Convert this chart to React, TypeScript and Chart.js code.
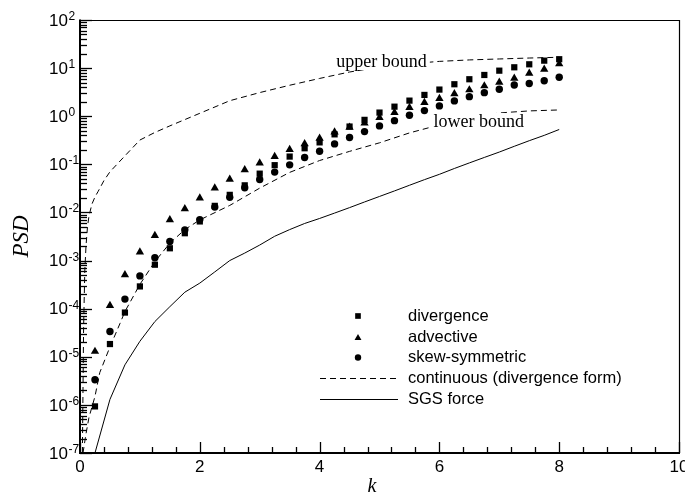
import React, { useEffect, useRef } from "react";
import { Chart, registerables } from "chart.js";

Chart.register(...registerables);

// Wavenumbers at which the discrete spectra are sampled
const kValues = [
  0.25, 0.5, 0.75, 1.0, 1.25, 1.5, 1.75, 2.0, 2.25, 2.5, 2.75, 3.0, 3.25, 3.5, 3.75, 4.0,
  4.25, 4.5, 4.75, 5.0, 5.25, 5.5, 5.75, 6.0, 6.25, 6.5, 6.75, 7.0, 7.25, 7.5, 7.75, 8.0,
];

// PSD of the discrete forms
const divergence = [
  9.3e-7, 1.84e-5, 8.3e-5, 2.9e-4, 8.2e-4, 1.8e-3, 3.7e-3, 6.5e-3, 1.37e-2, 2.32e-2, 3.66e-2,
  6.4e-2, 9.6e-2, 0.145, 0.216, 0.286, 0.42, 0.61, 0.84, 1.19, 1.58, 2.11, 2.77, 3.58, 4.62,
  5.87, 7.2, 8.85, 10.4, 12.0, 14.3, 15.3,
];
const advective = [
  1.29e-5, 1.16e-4, 5.06e-4, 1.5e-3, 3.3e-3, 7.0e-3, 1.19e-2, 1.98e-2, 3.2e-2, 4.9e-2, 7.7e-2,
  0.106, 0.145, 0.202, 0.266, 0.346, 0.47, 0.585, 0.716, 0.935, 1.19, 1.51, 1.92, 2.33, 2.91,
  3.52, 4.26, 5.08, 6.15, 7.8, 9.46, 12.2,
];
const skewSymmetric = [
  3.33e-6, 3.36e-5, 1.58e-4, 4.8e-4, 1.14e-3, 2.49e-3, 4.35e-3, 7.1e-3, 1.29e-2, 2.06e-2,
  3.27e-2, 4.84e-2, 6.9e-2, 9.75e-2, 0.139, 0.187, 0.266, 0.36, 0.479, 0.629, 0.81, 1.05, 1.31,
  1.64, 2.08, 2.55, 3.09, 3.64, 4.47, 4.8, 5.48, 6.46,
];

// Continuous (divergence form): upper and lower bounds
const upperK = [
  0.04, 0.05, 0.06, 0.08, 0.1, 0.125, 0.15, 0.2, 0.25, 0.3, 0.4, 0.5, 0.75, 1.0, 1.25, 1.5, 2.0,
  2.5, 3.0, 3.5, 4.0, 4.5, 5.0, 5.5, 6.0, 6.5, 7.0, 7.5, 8.0,
];
const upperPSD = [
  1e-7, 2e-6, 4e-5, 6e-4, 2e-3, 5e-3, 8.5e-3, 1.5e-2, 2.1e-2, 2.7e-2, 4.6e-2, 7e-2, 0.15, 0.32,
  0.46, 0.63, 1.15, 2.1, 3.1, 4.4, 6.1, 8.3, 10.5, 12.3, 13.8, 14.8, 15.5, 16.2, 16.8,
];
const lowerK = [
  0.05, 0.1, 0.15, 0.25, 0.33, 0.5, 0.67, 0.75, 1.0, 1.25, 1.5, 1.75, 2.0, 2.5, 3.0, 3.5, 4.0,
  4.5, 5.0, 5.5, 6.0, 6.5, 7.0, 7.5, 8.0,
];
const lowerPSD = [
  1e-7, 2.5e-7, 5.5e-7, 1.5e-6, 4.7e-6, 1.6e-5, 5e-5, 8.7e-5, 3.2e-4, 9.5e-4, 2.3e-3, 4.4e-3,
  7e-3, 1.4e-2, 3.2e-2, 6.8e-2, 0.12, 0.186, 0.28, 0.45, 0.66, 0.91, 1.17, 1.29, 1.35,
];

// Subgrid-scale force spectrum
const sgsForce = [
  1e-7, 1.3e-6, 6.8e-6, 2.1e-5, 5.4e-5, 1.1e-4, 2.2e-4, 3.4e-4, 5.8e-4, 1.0e-3, 1.43e-3, 2.1e-3,
  3.2e-3, 4.4e-3, 5.9e-3, 7.5e-3, 9.7e-3, 1.26e-2, 1.65e-2, 2.15e-2, 2.8e-2, 3.67e-2, 4.8e-2,
  6.2e-2, 8.2e-2, 0.107, 0.139, 0.18, 0.237, 0.31, 0.4, 0.53,
];

// Axis ticks
const xMajorTicks = [0, 2, 4, 6, 8, 10];
const xMinorPerMajor = 5;
const yDecades = [-7, -6, -5, -4, -3, -2, -1, 0, 1, 2];

const legendItems = [
  { label: "divergence", kind: "rect" },
  { label: "advective", kind: "triangle" },
  { label: "skew-symmetric", kind: "circle" },
  { label: "continuous (divergence form)", kind: "dash" },
  { label: "SGS force", kind: "solid" },
];

const SANS = '"Liberation Sans", Arial, Helvetica, sans-serif';
const SERIF = '"Liberation Serif", "Times New Roman", serif';

function pts(xs: number[], ys: number[]) {
  return xs.map((x, i) => ({ x, y: ys[i] }));
}

function marker(ctx: CanvasRenderingContext2D, kind: string, x: number, y: number, r: number) {
  ctx.beginPath();
  if (kind === "rect") {
    const s = r * Math.SQRT1_2;
    ctx.rect(x - s, y - s, 2 * s, 2 * s);
  } else if (kind === "triangle") {
    ctx.moveTo(x, y - r);
    ctx.lineTo(x + r * Math.sin(Math.PI / 3), y + r / 2);
    ctx.lineTo(x - r * Math.sin(Math.PI / 3), y + r / 2);
    ctx.closePath();
  } else {
    ctx.arc(x, y, r, 0, Math.PI * 2);
  }
  ctx.fill();
}

const framePlugin = {
  id: "psdFrame",
  afterDatasetsDraw(chart: any) {
    const ctx: CanvasRenderingContext2D = chart.ctx;
    const xs = chart.scales.x;
    const ys = chart.scales.y;
    ctx.save();
    ctx.textBaseline = "middle";
    ctx.textAlign = "left";
    ctx.font = `18px ${SERIF}`;

    // "upper bound" label sitting on the curve
    const ux = xs.getPixelForValue(4.28);
    const uy = ys.getPixelForValue(13.4);
    const uw = ctx.measureText("upper bound").width;
    ctx.fillStyle = "#fff";
    ctx.fillRect(ux - 3, uy - 9, uw + 6, 17);
    ctx.fillStyle = "#000";
    ctx.fillText("upper bound", ux, uy);

    // "lower bound" label
    const lx = xs.getPixelForValue(5.9);
    const ly = ys.getPixelForValue(0.76);
    const lw = ctx.measureText("lower bound").width;
    ctx.fillStyle = "#fff";
    ctx.fillRect(lx - 3, ly - 9, lw + 6, 18);
    ctx.fillStyle = "#000";
    ctx.fillText("lower bound", lx, ly);
    ctx.restore();
  },
  afterDraw(chart: any) {
    const ctx: CanvasRenderingContext2D = chart.ctx;
    const { left, right, top, bottom } = chart.chartArea;
    const xs = chart.scales.x;
    const ys = chart.scales.y;
    ctx.save();
    ctx.strokeStyle = "#000";
    ctx.fillStyle = "#000";

    // frame: thin top/right, heavier left/bottom axes
    ctx.lineWidth = 1.2;
    ctx.beginPath();
    ctx.moveTo(left, top + 0.5);
    ctx.lineTo(right + 0.5, top + 0.5);
    ctx.lineTo(right + 0.5, bottom);
    ctx.stroke();
    ctx.lineWidth = 2;
    ctx.beginPath();
    ctx.moveTo(left, top - 0.5);
    ctx.lineTo(left, bottom);
    ctx.lineTo(right + 1, bottom);
    ctx.stroke();

    // x ticks, pointing inward
    ctx.lineWidth = 1.3;
    for (let i = 0; i < xMajorTicks.length; i++) {
      const v = xMajorTicks[i];
      const px = Math.round(xs.getPixelForValue(v)) + 0.5;
      ctx.beginPath();
      ctx.moveTo(px, bottom);
      ctx.lineTo(px, bottom - 11);
      ctx.stroke();
      if (i < xMajorTicks.length - 1) {
        const step = (xMajorTicks[i + 1] - v) / xMinorPerMajor;
        for (let j = 1; j < xMinorPerMajor; j++) {
          const mx = Math.round(xs.getPixelForValue(v + j * step)) + 0.5;
          ctx.beginPath();
          ctx.moveTo(mx, bottom);
          ctx.lineTo(mx, bottom - 6);
          ctx.stroke();
        }
      }
    }

    // y ticks (log decades with minor ticks), pointing inward
    for (let i = 0; i < yDecades.length; i++) {
      const d = yDecades[i];
      const py = Math.round(ys.getPixelForValue(Math.pow(10, d))) + 0.5;
      ctx.beginPath();
      ctx.moveTo(left, py);
      ctx.lineTo(left + 12, py);
      ctx.stroke();
      if (i < yDecades.length - 1) {
        for (let m = 2; m <= 9; m++) {
          const my = Math.round(ys.getPixelForValue(m * Math.pow(10, d))) + 0.5;
          ctx.beginPath();
          ctx.moveTo(left, my);
          ctx.lineTo(left + 7, my);
          ctx.stroke();
        }
      }
    }

    // x tick labels
    ctx.font = `17px ${SANS}`;
    ctx.textAlign = "center";
    ctx.textBaseline = "middle";
    for (const v of xMajorTicks) {
      ctx.fillText(String(v), xs.getPixelForValue(v), bottom + 14);
    }

    // y tick labels as 10 with a raised exponent
    for (const d of yDecades) {
      const py = ys.getPixelForValue(Math.pow(10, d));
      ctx.font = `17px ${SANS}`;
      ctx.textAlign = "right";
      ctx.textBaseline = "middle";
      ctx.fillText("10", left - 12, py + 1);
      ctx.font = `12px ${SANS}`;
      ctx.textAlign = "left";
      ctx.textBaseline = "alphabetic";
      ctx.fillText(String(d), left - 11.5, py);
    }

    // axis titles
    ctx.font = `italic 20px ${SERIF}`;
    ctx.textAlign = "center";
    ctx.textBaseline = "middle";
    ctx.fillText("k", 372, bottom + 34);
    ctx.save();
    ctx.translate(22, (top + bottom) / 2);
    ctx.rotate(-Math.PI / 2);
    ctx.font = `italic 23px ${SERIF}`;
    ctx.fillText("PSD", 0, 0);
    ctx.restore();

    // legend
    const rowY = [316, 337, 357.5, 378, 399];
    ctx.font = `16.5px ${SANS}`;
    ctx.textAlign = "left";
    ctx.textBaseline = "middle";
    legendItems.forEach((item, i) => {
      const y = rowY[i];
      if (item.kind === "dash" || item.kind === "solid") {
        ctx.lineWidth = 1;
        ctx.setLineDash(item.kind === "dash" ? [6, 4] : []);
        ctx.beginPath();
        ctx.moveTo(320, y + 0.5);
        ctx.lineTo(398, y + 0.5);
        ctx.stroke();
        ctx.setLineDash([]);
      } else {
        const r = item.kind === "circle" ? 3.2 : 4;
        marker(ctx, item.kind, 358, item.kind === "triangle" ? y + 1 : y, r);
      }
      ctx.fillText(item.label, 408, y);
    });

    ctx.restore();
  },
};

export default function App() {
  const canvasRef = useRef<HTMLCanvasElement>(null);

  useEffect(() => {
    document.body.style.margin = "0";
    const canvas = canvasRef.current;
    if (!canvas) return;

    const markerBase = {
      showLine: false,
      backgroundColor: "#000",
      borderColor: "#000",
      borderWidth: 0,
    };
    const lineBase = {
      showLine: true,
      pointRadius: 0,
      borderColor: "#000",
      backgroundColor: "#000",
      borderWidth: 1,
      tension: 0,
      fill: false,
    };

    const chart = new Chart(canvas, {
      type: "scatter",
      data: {
        datasets: [
          { ...markerBase, label: "divergence", data: pts(kValues, divergence), pointStyle: "rect", pointRadius: 4.4, order: 1 },
          { ...markerBase, label: "advective", data: pts(kValues, advective), pointStyle: "triangle", pointRadius: 4.8, order: 1 },
          { ...markerBase, label: "skew-symmetric", data: pts(kValues, skewSymmetric), pointStyle: "circle", pointRadius: 3.7, order: 1 },
          { ...lineBase, label: "continuous (divergence form)", data: pts(upperK, upperPSD), borderDash: [6, 4], order: 2 },
          { ...lineBase, label: "continuous (divergence form), lower", data: pts(lowerK, lowerPSD), borderDash: [6, 4], order: 2 },
          { ...lineBase, label: "SGS force", data: pts(kValues, sgsForce), order: 2 },
        ],
      },
      options: {
        responsive: false,
        animation: false,
        events: [],
        layout: { padding: { left: 80, right: 6, top: 20, bottom: 51 } },
        scales: {
          x: { type: "linear", min: 0, max: 10, display: false },
          y: { type: "logarithmic", min: 1e-7, max: 100, display: false },
        },
        plugins: {
          legend: { display: false },
          tooltip: { enabled: false },
        },
      },
      plugins: [framePlugin],
    } as any);

    return () => chart.destroy();
  }, []);

  return (
    <div style={{ width: 685, height: 504 }}>
      <canvas ref={canvasRef} width={685} height={504} style={{ display: "block" }} />
    </div>
  );
}
